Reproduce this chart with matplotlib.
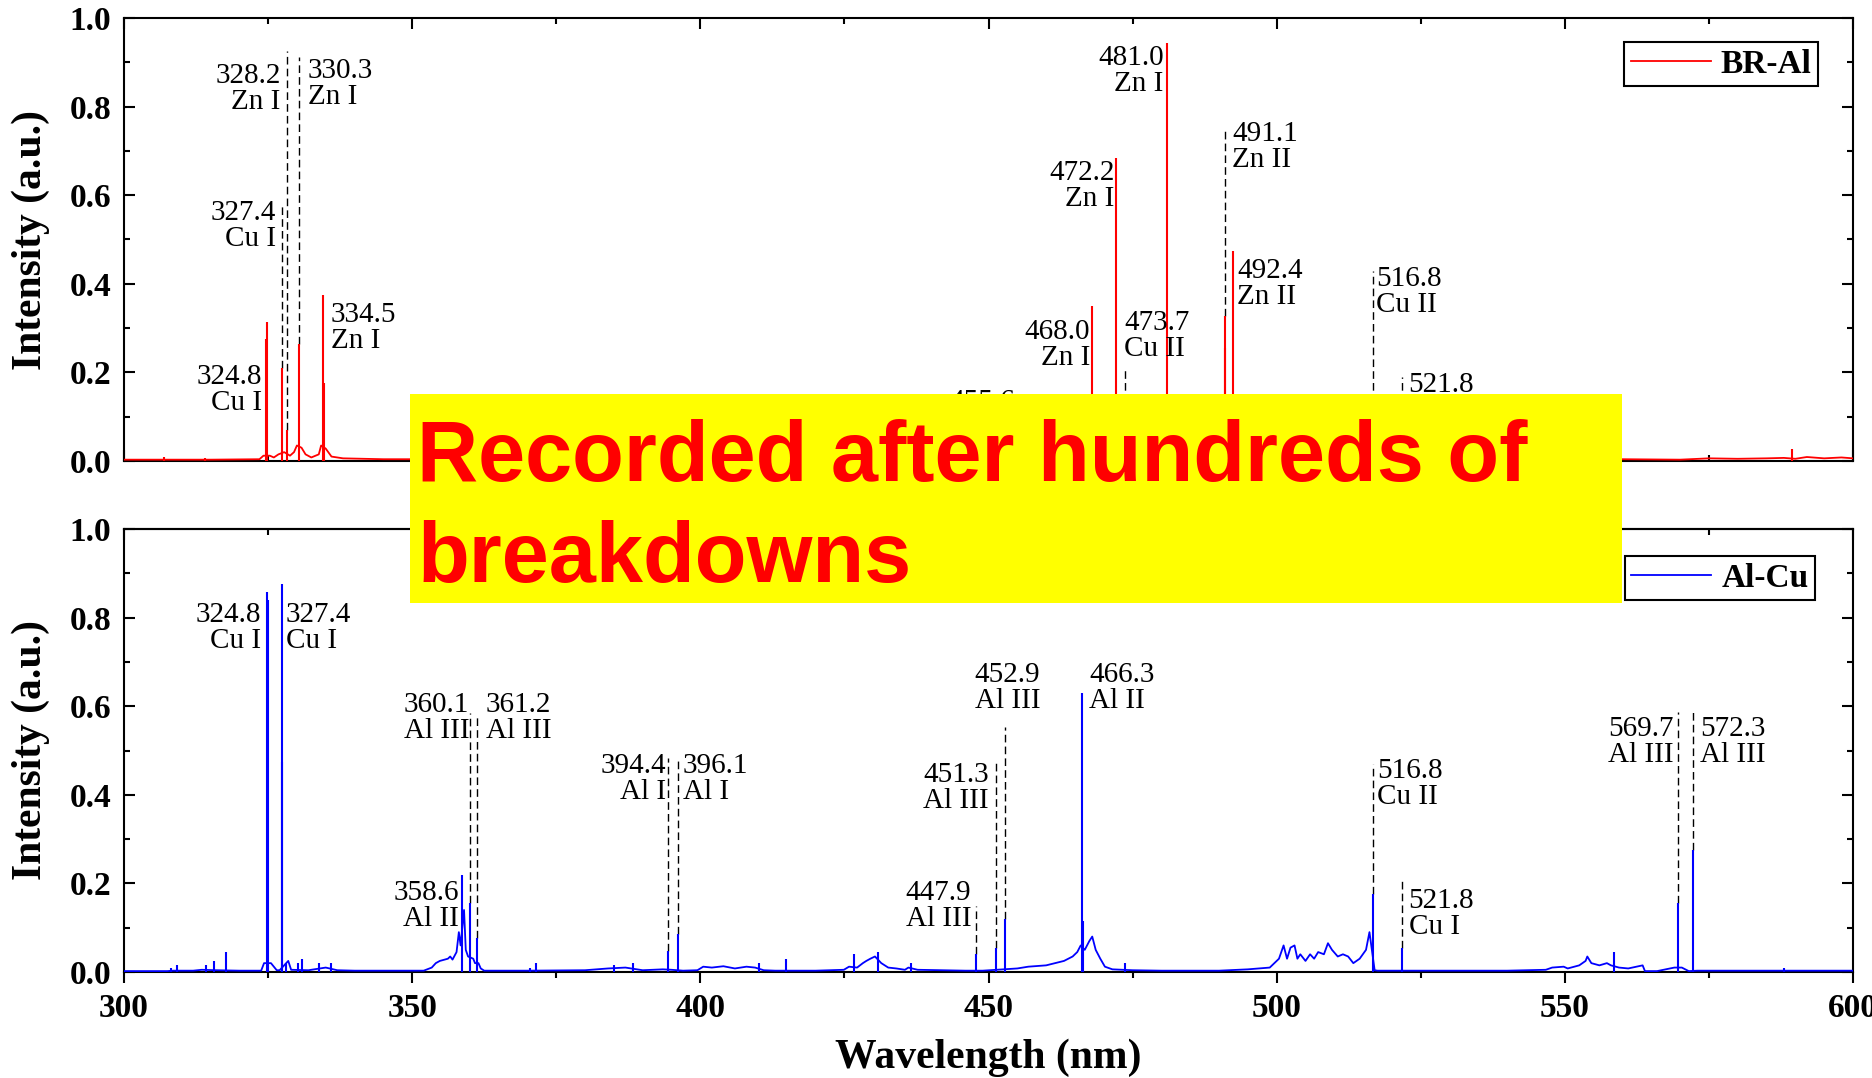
import matplotlib
matplotlib.use('Agg')
import matplotlib.pyplot as plt
from matplotlib.patches import Rectangle
from matplotlib.ticker import MultipleLocator, FormatStrFormatter

plt.rcParams['font.family'] = 'Liberation Serif'

# ---- BR-Al spectrum ----
# emission lines: (wavelength nm, intensity)
br_al_peaks = [
    (307.0, 0.008), (314.0, 0.007), (324.6, 0.275), (324.8, 0.314), (327.4, 0.21),
    (328.2, 0.071), (330.3, 0.265), (334.5, 0.375), (334.7, 0.177),
    (468.0, 0.35), (472.2, 0.684), (481.0, 0.944), (491.0, 0.256), (491.1, 0.327),
    (492.4, 0.474), (589.5, 0.028),
]
# continuum / baseline
br_al_background = [
    (300, 0.003), (306, 0.003), (308, 0.003), (313, 0.003), (315, 0.003),
    (323.5, 0.004), (324.2, 0.012), (325.3, 0.012), (326.0, 0.008), (326.8, 0.015),
    (327.8, 0.02), (328.8, 0.012), (329.5, 0.02), (330.0, 0.035), (330.8, 0.03),
    (331.5, 0.015), (332.5, 0.008), (333.8, 0.015), (334.2, 0.035), (335.0, 0.028),
    (336.0, 0.01), (338.0, 0.006), (345, 0.004), (350, 0.004), (560, 0.004),
    (570, 0.003), (575, 0.006), (580, 0.005), (585, 0.006), (588, 0.007),
    (590, 0.005), (592, 0.009), (595, 0.006), (598, 0.008), (600, 0.006),
]
br_al_lines_nm = [324.8, 327.4, 328.2, 330.3, 334.5, 455.6, 468.0, 472.2,
                  473.7, 481.0, 491.1, 492.4, 516.8, 521.8]
br_al_lines_ion = ['Cu I', 'Cu I', 'Zn I', 'Zn I', 'Zn I', '', 'Zn I', 'Zn I',
                   'Cu II', 'Zn I', 'Zn II', 'Zn II', 'Cu II', 'Cu I']

# ---- Al-Cu spectrum ----
al_cu_peaks = [
    (308.2, 0.01), (309.2, 0.015), (314.2, 0.015), (315.7, 0.025), (317.7, 0.046),
    (324.8, 0.857), (324.95, 0.84), (327.4, 0.875), (327.5, 0.474), (328.1, 0.02),
    (330.2, 0.02), (330.8, 0.03), (333.8, 0.02), (336.0, 0.02),
    (358.6, 0.219), (360.1, 0.156), (361.2, 0.077), (370.4, 0.01), (371.4, 0.02),
    (385.1, 0.015), (388.4, 0.02), (394.4, 0.048), (396.1, 0.085), (410.1, 0.02),
    (414.9, 0.03), (426.6, 0.04), (430.8, 0.045), (436.5, 0.02),
    (447.9, 0.04), (451.3, 0.054), (452.9, 0.12), (466.3, 0.63), (466.4, 0.115),
    (473.7, 0.02), (516.8, 0.176), (521.8, 0.054), (558.6, 0.045),
    (569.7, 0.156), (572.3, 0.275), (588.0, 0.01),
]
al_cu_background = [
    (300, 0.002), (307.5, 0.002), (308.5, 0.003), (312, 0.003), (313.5, 0.005),
    (316, 0.004), (320, 0.003), (323.8, 0.003), (324.3, 0.02), (325.5, 0.02),
    (326.5, 0.004), (327.0, 0.004), (328.5, 0.025), (329, 0.005), (332, 0.004),
    (335, 0.01), (337, 0.004), (340, 0.003), (345, 0.003), (352, 0.003),
    (353.4, 0.01), (354.1, 0.02), (354.8, 0.025), (355.6, 0.028), (356.2, 0.03),
    (356.6, 0.035), (357.0, 0.028), (357.7, 0.045), (358.1, 0.09), (358.4, 0.06),
    (359.0, 0.14), (359.3, 0.05), (359.7, 0.035), (360.6, 0.03), (360.9, 0.02),
    (361.5, 0.02), (361.9, 0.008), (362.5, 0.003), (370, 0.003), (380, 0.004),
    (384, 0.008), (387, 0.01), (390, 0.004), (393.5, 0.006), (395, 0.005),
    (397, 0.003), (399.5, 0.004), (400.5, 0.012), (402, 0.01), (404, 0.013),
    (406, 0.008), (408, 0.012), (409.5, 0.01), (411, 0.004), (413, 0.003),
    (420, 0.003), (424.9, 0.005), (425.8, 0.012), (427.2, 0.01), (428.2, 0.02),
    (428.8, 0.025), (429.5, 0.03), (430.3, 0.035), (431.4, 0.02), (432.6, 0.01),
    (434, 0.008), (435.5, 0.005), (436.1, 0.01), (437.7, 0.005), (442, 0.004),
    (446, 0.003), (449, 0.003), (455, 0.008), (456.9, 0.012), (460, 0.015),
    (463.1, 0.025), (464.6, 0.035), (465.4, 0.045), (466.0, 0.06), (466.7, 0.05),
    (467.5, 0.07), (468.0, 0.08), (468.6, 0.05), (469.4, 0.03), (470.2, 0.012),
    (471.5, 0.006), (475, 0.004), (480, 0.003), (490, 0.003), (495, 0.006),
    (498.8, 0.01), (499.6, 0.02), (500.4, 0.03), (501.2, 0.06), (501.8, 0.03),
    (502.4, 0.055), (503.1, 0.06), (503.6, 0.03), (504.1, 0.04), (505.0, 0.025),
    (505.8, 0.04), (506.5, 0.03), (507.2, 0.045), (508.2, 0.04), (508.9, 0.065),
    (509.6, 0.05), (510.6, 0.035), (511.5, 0.04), (512.4, 0.035), (513.3, 0.02),
    (514.4, 0.03), (515.5, 0.05), (516.1, 0.09), (517.0, 0.004), (517.5, 0.003),
    (520, 0.003), (530, 0.003), (540, 0.003), (546.7, 0.005), (547.8, 0.01),
    (549.8, 0.012), (550.5, 0.008), (552.5, 0.015), (553.6, 0.025), (553.9, 0.035),
    (554.6, 0.02), (556, 0.015), (557.3, 0.02), (558.0, 0.015), (559.4, 0.01),
    (561, 0.008), (563.5, 0.015), (563.9, 0.002), (566, 0.002), (569, 0.01),
    (570.3, 0.01), (571.5, 0.002), (573, 0.003), (580, 0.003), (590, 0.003),
    (600, 0.003),
]
al_cu_lines_nm = [324.8, 327.4, 358.6, 360.1, 361.2, 394.4, 396.1, 447.9,
                  451.3, 452.9, 466.3, 516.8, 521.8, 569.7, 572.3]
al_cu_lines_ion = ['Cu I', 'Cu I', 'Al II', 'Al III', 'Al III', 'Al I', 'Al I',
                   'Al III', 'Al III', 'Al III', 'Al II', 'Cu II', 'Cu I',
                   'Al III', 'Al III']

# label placement: (text x, text top, ha, dashed guide (ymin, ymax) or None)
br_al_label_pos = [
    (323.9, 0.218, 'right', None),
    (326.4, 0.59, 'right', (0.21, 0.575)),
    (327.2, 0.898, 'right', (0.071, 0.925)),
    (331.9, 0.91, 'left', (0.265, 0.913)),
    (335.9, 0.36, 'left', None),
    (454.6, 0.163, 'right', (0.0, 0.154)),
    (467.6, 0.32, 'right', None),
    (471.9, 0.68, 'right', None),
    (473.5, 0.34, 'left', (0.0, 0.207)),
    (480.4, 0.94, 'right', None),
    (492.3, 0.767, 'left', (0.327, 0.744)),
    (493.2, 0.459, 'left', None),
    (517.3, 0.44, 'left', (0.0, 0.429)),
    (522.8, 0.2, 'left', (0.0, 0.19)),
]
al_cu_label_pos = [
    (323.8, 0.836, 'right', None),
    (328.1, 0.836, 'left', None),
    (358.1, 0.208, 'right', None),
    (359.9, 0.632, 'right', (0.156, 0.584)),
    (362.8, 0.632, 'left', (0.077, 0.578)),
    (394.1, 0.495, 'right', (0.048, 0.483)),
    (397.0, 0.495, 'left', (0.085, 0.483)),
    (447.0, 0.208, 'right', (0.04, 0.15)),
    (450.1, 0.474, 'right', (0.054, 0.474)),
    (453.3, 0.699, 'center', (0.12, 0.553)),
    (467.5, 0.699, 'left', None),
    (517.4, 0.483, 'left', (0.176, 0.47)),
    (522.9, 0.19, 'left', (0.054, 0.212)),
    (568.9, 0.578, 'right', (0.156, 0.587)),
    (573.5, 0.578, 'left', (0.275, 0.587)),
]

W, H = 1872, 1078
fig = plt.figure(figsize=(W / 100, H / 100), dpi=100)
ax_top = fig.add_axes([124 / W, 1 - 461 / H, 1729 / W, 443 / H])
ax_bot = fig.add_axes([124 / W, 1 - 972 / H, 1729 / W, 443 / H])

LABEL_FONT = dict(fontsize=30, fontweight='bold')


def draw_spectrum(ax, peaks, background, color, name):
    bx, by = zip(*background)
    line, = ax.plot(bx, by, color=color, lw=1.3, label=name, zorder=3)
    px, py = zip(*peaks)
    ax.vlines(px, 0, py, colors=color, lw=1.5, zorder=3)
    return line


def annotate(ax, lines_nm, ions, layout):
    for nm, ion, (tx, ty, ha, guide) in zip(lines_nm, ions, layout):
        txt = f'{nm:.1f}' + (f'\n{ion}' if ion else '')
        ax.text(tx, ty, txt, ha=ha, va='top', fontsize=21, linespacing=1.0,
                zorder=4)
        if guide is not None:
            ax.vlines(nm, guide[0], guide[1], colors='k', lw=1.0,
                      linestyles=(0, (5.5, 3)), zorder=2)


def style_axes(ax, show_xlabels):
    ax.set_xlim(300, 600)
    ax.set_ylim(0, 1.0)
    ax.xaxis.set_major_locator(MultipleLocator(50))
    ax.xaxis.set_minor_locator(MultipleLocator(25))
    ax.yaxis.set_major_locator(MultipleLocator(0.2))
    ax.yaxis.set_minor_locator(MultipleLocator(0.1))
    ax.yaxis.set_major_formatter(FormatStrFormatter('%.1f'))
    for sp in ax.spines.values():
        sp.set_linewidth(1.5)
    ax.tick_params(axis='y', which='both', direction='in', left=True, right=True,
                   width=1.5, pad=9, labelsize=24)
    ax.tick_params(axis='y', which='major', length=8)
    ax.tick_params(axis='y', which='minor', length=4.5)
    for lbl in ax.get_yticklabels():
        lbl.set_fontweight('bold')
    ax.set_ylabel('Intensity (a.u.)', **LABEL_FONT)
    ax.yaxis.set_label_coords(-0.043, 0.5)
    if show_xlabels:
        ax.tick_params(axis='x', which='both', direction='out', top=False,
                       width=1.5, pad=7, labelsize=24)
        ax.tick_params(axis='x', which='major', length=8)
        ax.tick_params(axis='x', which='minor', length=4.5)
        for lbl in ax.get_xticklabels():
            lbl.set_fontweight('bold')
        sec = ax.secondary_xaxis('top')
        sec.xaxis.set_major_locator(MultipleLocator(50))
        sec.xaxis.set_minor_locator(MultipleLocator(25))
        sec.tick_params(axis='x', which='both', direction='in', width=1.5,
                        labeltop=False)
        sec.tick_params(axis='x', which='major', length=8)
        sec.tick_params(axis='x', which='minor', length=4.5)
        sec.spines['top'].set_linewidth(1.5)
        ax.set_xlabel('Wavelength (nm)', **LABEL_FONT)
        ax.xaxis.set_label_coords(0.5, -0.15)
    else:
        ax.tick_params(axis='x', which='both', direction='in', top=True,
                       bottom=True, labelbottom=False, width=1.5)
        ax.tick_params(axis='x', which='major', length=8)
        ax.tick_params(axis='x', which='minor', length=4.5)


def add_legend(ax, handle, anchor):
    leg = ax.legend(handles=[handle], loc='upper right', bbox_to_anchor=anchor,
                    prop=dict(size=24, weight='bold'), frameon=True, fancybox=False,
                    edgecolor='black', framealpha=1, handlelength=2.4,
                    handletextpad=0.3, borderpad=0.2, borderaxespad=0)
    leg.get_frame().set_linewidth(1.5)


h_top = draw_spectrum(ax_top, br_al_peaks, br_al_background, '#ff0000', 'BR-Al')
annotate(ax_top, br_al_lines_nm, br_al_lines_ion, br_al_label_pos)
style_axes(ax_top, False)
add_legend(ax_top, h_top, (0.980, 0.946))

h_bot = draw_spectrum(ax_bot, al_cu_peaks, al_cu_background, '#0000ff', 'Al-Cu')
annotate(ax_bot, al_cu_lines_nm, al_cu_lines_ion, al_cu_label_pos)
style_axes(ax_bot, True)
add_legend(ax_bot, h_bot, (0.978, 0.939))

# banner across both panels (baseline given for the last line)
fig.add_artist(Rectangle((410 / W, 1 - 603 / H), 1212 / W, 209 / H,
                         transform=fig.transFigure, facecolor='#ffff00',
                         edgecolor='none', zorder=10))
fig.text(417 / W, 1 - 582 / H, 'Recorded after hundreds of\nbreakdowns',
         family='Liberation Sans', fontsize=61, fontweight='bold',
         color='#ff0000', ha='left', va='baseline', linespacing=1.34, zorder=11)

fig.savefig('out.png', dpi=100)
